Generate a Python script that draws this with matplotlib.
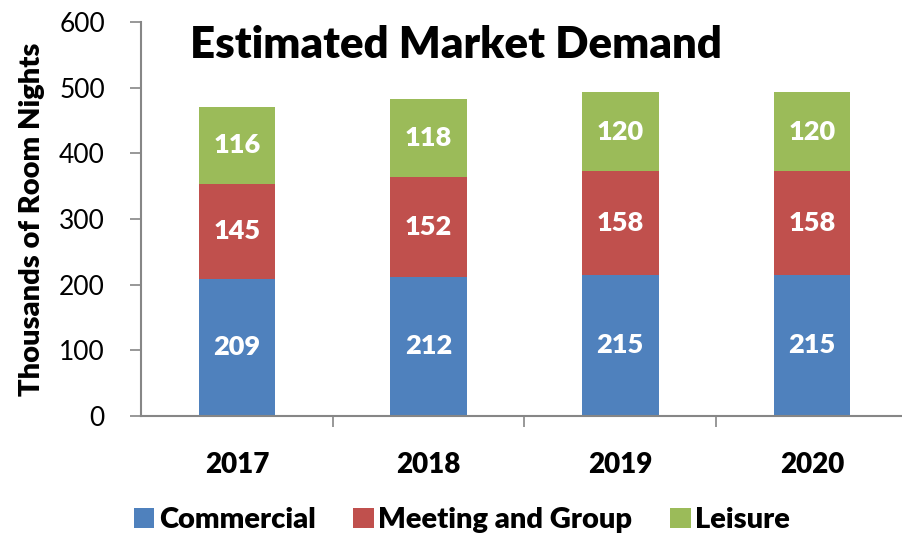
import matplotlib
matplotlib.use('Agg')
import matplotlib.pyplot as plt
import numpy as np

### data
years = ['2017', '2018', '2019', '2020']
commercial = [209, 212, 215, 215]
meeting = [145, 152, 158, 158]
leisure = [116, 118, 120, 120]

series = [('Commercial', commercial, '#4F81BD'),
          ('Meeting and Group', meeting, '#C0504D'),
          ('Leisure', leisure, '#9BBB59')]

plt.rcParams['font.family'] = ['Lato', 'DejaVu Sans']
axis_gray = '#868686'
bold = 'heavy'

fig = plt.figure(figsize=(9.02, 5.4), dpi=100)
ax = fig.add_axes([141/902, 1 - 416/540, 1 - 141/902, (416 - 22)/540])

x = np.arange(len(years))
bottom = np.zeros(len(years))
for name, vals, col in series:
    bars = ax.bar(x, vals, width=0.40, bottom=bottom, color=col, label=name)
    for b, v, y0 in zip(bars, vals, bottom):
        ax.text(b.get_x() + b.get_width()/2, y0 + v/2, str(v), ha='center', va='center',
                color='white', fontsize=19.5, fontweight=bold)
    bottom += np.array(vals)

ax.set_ylim(0, 600)
ax.set_xlim(-0.5, 3.47)
ax.set_yticks(range(0, 601, 100))
ax.tick_params(axis='y', labelsize=19, length=8, width=1.2, color=axis_gray, pad=18)

# x ticks at category boundaries, labels at centers
ax.set_xticks(x)
ax.set_xticklabels(years, fontsize=20, fontweight=bold)
ax.tick_params(axis='x', length=0, pad=26)
ax.set_xticks([0.5, 1.5, 2.5], minor=True)
ax.tick_params(axis='x', which='minor', length=8, width=1.2, color=axis_gray)

for s in ('top', 'right'):
    ax.spines[s].set_visible(False)
for s in ('left', 'bottom'):
    ax.spines[s].set_color(axis_gray)
    ax.spines[s].set_linewidth(1.5)

ax.set_ylabel('Thousands of Room Nights', fontsize=21, fontweight=bold, labelpad=10)
ax.text(0.064, 0.909, 'Estimated Market Demand', transform=ax.transAxes,
        fontsize=31.5, fontweight=bold, va='baseline', ha='left')

fig.legend(loc='center', bbox_to_anchor=(462/902, 1 - 520/540), ncol=3, frameon=False,
           prop={'size': 21, 'weight': bold}, handlelength=0.7, handleheight=0.7,
           handletextpad=0.15, columnspacing=1.3, borderpad=0, borderaxespad=0)

fig.savefig('out.png', dpi=100)
